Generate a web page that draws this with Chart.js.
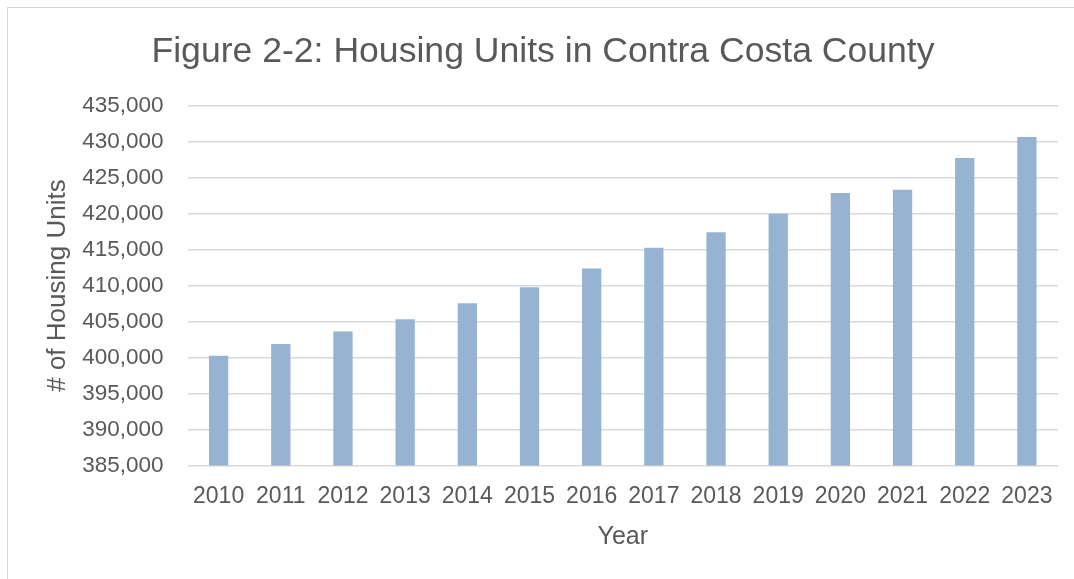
<!DOCTYPE html>
<html>
<head>
<meta charset="utf-8">
<script src="https://cdn.jsdelivr.net/npm/chart.js"></script>
<style>
    html, body { margin: 0; padding: 0; background: #fff; overflow: hidden; }
    .frame {
        position: absolute;
        left: 7px;
        top: 7px;
        width: 1078px;
        height: 580px;
        border-left: 1px solid #d9d9d9;
        border-top: 1px solid #d9d9d9;
    }
    .frame canvas { display: block; }
</style>
</head>
<body>
<div class="frame">
    <canvas id="housingChart" width="1078" height="571"></canvas>
</div>
<script>
// بيانات الرسم البياني
const years = ['2010', '2011', '2012', '2013', '2014', '2015', '2016',
               '2017', '2018', '2019', '2020', '2021', '2022', '2023'];
const housingUnits = [400260, 401880, 403600, 405300, 407540, 409770, 412370,
                      415240, 417420, 419970, 422850, 423310, 427720, 430640];
const yTicks = [385000, 390000, 395000, 400000, 405000, 410000,
                415000, 420000, 425000, 430000, 435000];

const textColor = '#595959';
const gridColor = '#d9d9d9';
const fontFamily = '"Liberation Sans", Arial, sans-serif';

document.addEventListener('DOMContentLoaded', function() {
    const ctx = document.getElementById('housingChart').getContext('2d');

    new Chart(ctx, {
        type: 'bar',
        data: {
            labels: years,
            datasets: [{
                label: 'Housing Units',
                data: housingUnits,
                backgroundColor: '#96b4d2',
                borderWidth: 0,
                categoryPercentage: 1,
                barPercentage: 0.31
            }]
        },
        options: {
            responsive: false,
            animation: false,
            layout: {
                padding: { left: 20, right: 28, top: 0, bottom: 27 }
            },
            plugins: {
                legend: { display: false },
                tooltip: { enabled: false },
                title: {
                    display: true,
                    text: 'Figure 2-2: Housing Units in Contra Costa County',
                    color: textColor,
                    font: { family: fontFamily, size: 35.6, weight: 'normal' },
                    padding: { top: 23, bottom: 32 }
                }
            },
            scales: {
                x: {
                    grid: { display: false, drawTicks: false },
                    border: { display: false },
                    afterFit: function(scale) {
                        // المسافة تحسب مرتين في الارتفاع
                        scale.height -= 17;
                    },
                    ticks: {
                        color: textColor,
                        font: { family: fontFamily, size: 23 },
                        padding: 17,
                        maxRotation: 0
                    },
                    title: {
                        display: true,
                        text: 'Year',
                        color: textColor,
                        font: { family: fontFamily, size: 25 },
                        padding: { top: 12, bottom: 0 }
                    }
                },
                y: {
                    min: yTicks[0],
                    max: yTicks[yTicks.length - 1],
                    afterBuildTicks: function(scale) {
                        scale.ticks = yTicks.map(v => ({ value: v }));
                    },
                    afterFit: function(scale) {
                        scale.width -= 27;
                    },
                    grid: {
                        color: gridColor,
                        lineWidth: 1.5,
                        drawTicks: false
                    },
                    border: { display: false },
                    ticks: {
                        color: textColor,
                        font: { family: fontFamily, size: 22.5 },
                        padding: 24,
                        callback: value => value.toLocaleString('en-US')
                    },
                    title: {
                        display: true,
                        text: '# of Housing Units',
                        color: textColor,
                        font: { family: fontFamily, size: 26 },
                        padding: { top: 14, bottom: 12 }
                    }
                }
            }
        }
    });
});
</script>
</body>
</html>
